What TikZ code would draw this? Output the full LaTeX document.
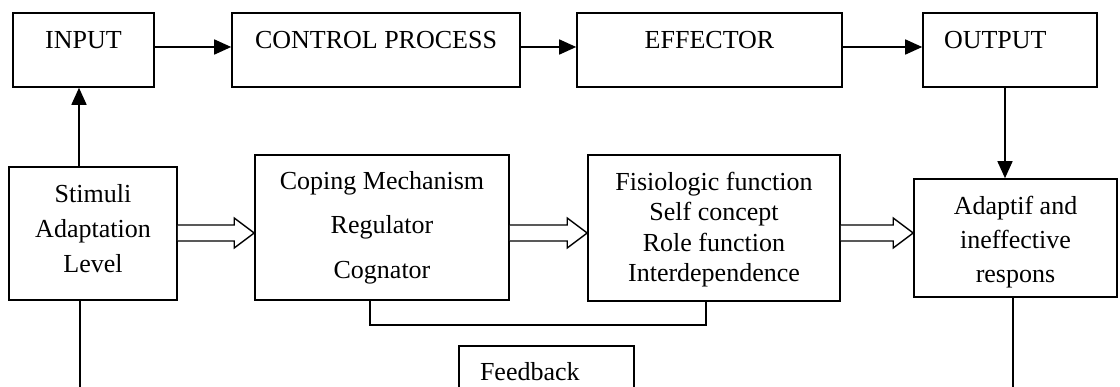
\documentclass[tikz,border=0pt]{standalone}
\usepackage{fontspec}
\setmainfont{Liberation Serif}
\usetikzlibrary{arrows.meta,calc}
\newcommand\hollowarr[2]{%
  \draw[hollow] ($(#1.east|-Y)+(0,-8)$) -- ($(#2.west|-Y)+(-20,-8)$) -- ($(#2.west|-Y)+(-20,-15)$) -- (#2.west|-Y) -- ($(#2.west|-Y)+(-20,15)$) -- ($(#2.west|-Y)+(-20,8)$) -- ($(#1.east|-Y)+(0,8)$);}
\begin{document}
\begin{tikzpicture}[x=1pt,y=-1pt,
  box/.style={draw,line width=1.6pt,inner sep=0pt,align=center},
  topbox/.style={box,font=\fontsize{26}{30}\selectfont,text height=18pt,text depth=20pt,minimum height=74pt},
  arr/.style={line width=1.6pt,-{Triangle[length=17pt,width=15pt]}},
  ln/.style={line width=1.6pt},
  hollow/.style={line width=1.4pt,fill=white,line join=miter}]
\clip (0,0) rectangle (1120,387);
\fill[white] (0,0) rectangle (1120,387);
% top row
\node[topbox,minimum width=141pt] (inp) at (83.5,50) {INPUT};
\node[topbox,minimum width=288pt] (ctl) at (376,50) {CONTROL PROCESS};
\node[topbox,minimum width=265pt] (eff) at (709.5,50) {EFFECTOR};
\node[topbox,align=left,inner xsep=21pt,text width=132pt] (out) at (1010,50) {OUTPUT};
% middle row
\node[box,font=\fontsize{26}{35}\selectfont,minimum width=168pt,minimum height=133pt] (stim) at (93,233.5) {Stimuli\\Adaptation\\Level\rule[-10pt]{0pt}{0pt}};
\node[box,font=\fontsize{26}{44.5}\selectfont,minimum width=254pt,minimum height=145pt] (cop) at (382,227.5) {Coping Mechanism\\Regulator\\Cognator};
\node[box,font=\fontsize{26}{30.5}\selectfont,minimum width=252pt,minimum height=146pt] (fis) at (714,228) {\rule{0pt}{22pt}Fisiologic function\\Self concept\\Role function\\Interdependence};
\node[box,font=\fontsize{26}{34}\selectfont,minimum width=203pt,minimum height=118pt] (adapt) at (1015.5,238) {\rule{0pt}{26pt}Adaptif and\\ineffective\\respons};
% feedback
\node[box,font=\fontsize{26}{30}\selectfont,align=left,inner xsep=21pt,text width=133pt,text height=18pt,text depth=32pt,minimum height=84pt] (fb) at (546.5,388) {Feedback};
% connectors
\draw[arr] ([yshift=3pt]inp.east) -- ([yshift=3pt]ctl.west);
\draw[arr] ([yshift=3pt]ctl.east) -- ([yshift=3pt]eff.west);
\draw[arr] ([yshift=3pt]eff.east) -- ([yshift=3pt]out.west);
\draw[arr] ([xshift=-14pt]stim.north) -- ([xshift=-14pt]stim.north |- inp.south);
\draw[arr] ([xshift=-5pt]out.south) -- ([xshift=-5pt]out.south |- adapt.north);
\coordinate (bot) at (0,390);
\draw[ln] ([xshift=-13pt]stim.south) -- ([xshift=-13pt]stim.south |- bot);
\draw[ln] ([xshift=-2.5pt]adapt.south) -- ([xshift=-2.5pt]adapt.south |- bot);
\draw[ln] ([xshift=-12pt]cop.south) -- ++(0,24) -| ([xshift=-8pt]fis.south);
\coordinate (Y) at (0,233);
\hollowarr{stim}{cop}
\hollowarr{cop}{fis}
\hollowarr{fis}{adapt}
\end{tikzpicture}
\end{document}
